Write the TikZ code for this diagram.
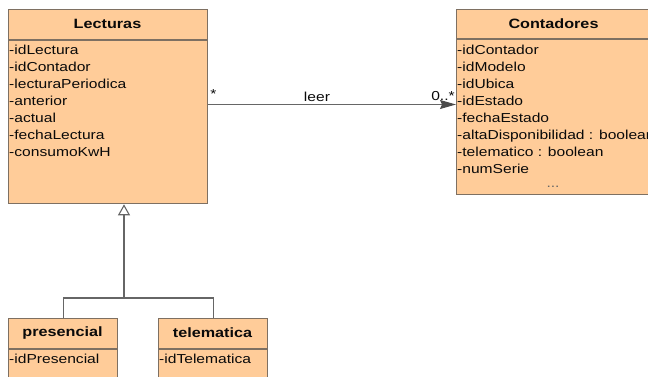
\documentclass[tikz,border=0pt]{standalone}
\usepackage{fontspec}
\setmainfont{Liberation Sans}
\newfontfamily\umlfont[FakeStretch=1.2]{Liberation Sans}
\usetikzlibrary{arrows.meta,calc}
\definecolor{classfill}{HTML}{FFCC99}
\definecolor{classline}{HTML}{7E7062}
\definecolor{wire}{HTML}{666666}
\definecolor{headfill}{HTML}{4A4A4A}
\definecolor{ink}{HTML}{0A0A0A}
\tikzset{
  classbox/.style={draw=classline, fill=classfill, line width=1.3pt, anchor=north west, inner sep=0pt},
  divider/.style={draw=classline, line width=1.3pt},
  ctitle/.style={font=\umlfont\fontsize{13.5}{17}\selectfont\bfseries, text=ink, inner sep=0pt},
  attrs/.style={font=\umlfont\fontsize{13}{17}\selectfont, text=ink, align=left, anchor=north west, inner sep=0pt},
  lbl/.style={font=\umlfont\fontsize{13}{17}\selectfont, text=ink, inner sep=0pt},
  wireline/.style={draw=wire, line width=1.1pt},
}
\begin{document}
\begin{tikzpicture}[x=1pt,y=-1pt]
\useasboundingbox (0,0) rectangle (648,376);
\clip (0,0) rectangle (648,376);

% classes
\node[classbox, minimum width=199pt, minimum height=194pt] (lect) at (8,9) {};
\node[classbox, minimum width=260pt, minimum height=185pt] (cont) at (456,9) {};
\node[classbox, minimum width=109pt, minimum height=70pt] (pres) at (8,318) {};
\node[classbox, minimum width=109pt, minimum height=70pt] (tele) at (158,318) {};

% compartment dividers
\draw[divider] (lect.west |- 0,40) -- (lect.east |- 0,40);
\draw[divider] (cont.west |- 0,39) -- (cont.east |- 0,39);
\draw[divider] (pres.west |- 0,349) -- (pres.east |- 0,349);
\draw[divider] (tele.west |- 0,349) -- (tele.east |- 0,349);

% class names
\node[ctitle] (lectT) at (107.5,24) {Lecturas};
\node[ctitle] (contT) at (553.5,24) {Contadores};
\node[ctitle] (presT) at (62.5,333) {presencial};
\node[ctitle] (teleT) at (212.5,333) {telematica};

% attributes
\node[attrs] (lectA) at (9,44.5) {-idLectura\\-idContador\\-lecturaPeriodica\\-anterior\\-actual\\-fechaLectura\\-consumoKwH};
\node[attrs] (contA) at (457,44.5) {-idContador\\-idModelo\\-idUbica\\-idEstado\\-fechaEstado\\-altaDisponibilidad : boolean\\-telematico : boolean\\-numSerie};
\node[lbl, text=black!60] (contD) at (553,187) {...};
\node[attrs] (presA) at (9,353.5) {-idPresencial};
\node[attrs] (teleA) at (159,353.5) {-idTelematica};

% association "leer"
\coordinate (assoc) at (0,104.5);
\draw[wireline, -{Stealth[length=16pt,width=9pt,inset=2pt,color=headfill,fill=headfill]}] (lect.east |- assoc) -- (cont.west |- assoc);
\node[lbl] (multL) at (213.5,94) {*};
\node[lbl] (leer) at (317,97) {leer};
\node[lbl] (multR) at (443,96) {0..*};

% generalization
\coordinate (split) at (124,298);
\draw[wireline] (pres.north) |- (split) -| (tele.north);
\draw[wireline, -{Triangle[open,length=11pt,width=12pt,fill=white]}] (split) -- (split |- lect.south);
\end{tikzpicture}
\end{document}
